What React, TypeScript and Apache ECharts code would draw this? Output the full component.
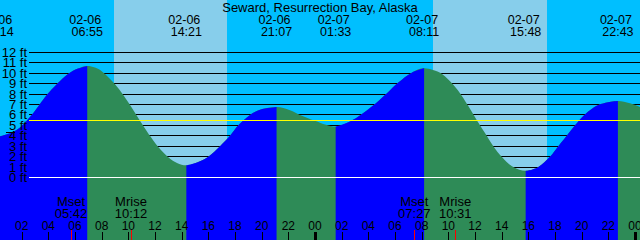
import React, { useEffect, useRef } from 'react';
import * as echarts from 'echarts';

const TITLE = 'Seward, Resurrection Bay, Alaska';

// Tide curve: hours since 02-06 00:00, height in feet
const curveHours = [
  0.375, 1.125, 1.875, 2.753, 3.323, 3.878, 4.628, 5.498, 6.225, 6.917,
  7.5, 8.003, 9.0, 9.623, 10.2, 10.673, 11.175, 11.678, 12.248, 12.998, 13.65, 14.35,
  15.15, 15.998, 16.875, 17.625, 18.248, 19.125, 19.875, 21.117,
  22.125, 22.875, 24.0, 24.825, 25.55,
  26.498, 27.248, 28.5, 29.498, 30.248, 31.253, 32.183,
  32.85, 33.503, 34.373, 35.003, 35.498, 35.925, 36.375, 36.878, 37.373, 38.003, 38.873, 39.8,
  40.275, 40.748, 41.625, 42.248, 42.878, 43.5, 44.123, 44.625, 45.248, 45.975, 46.717,
  47.625, 48.375,
];
const curveFeet = [
  3.96, 4.25, 4.8, 6.0, 6.95, 7.9, 8.95, 9.95, 10.45, 10.7,
  10.55, 10.2, 8.95, 7.9, 6.8, 5.85, 4.85, 3.9, 2.92, 1.95, 1.4, 1.17,
  1.45, 2.0, 3.0, 4.0, 5.0, 6.0, 6.5, 6.75,
  6.45, 6.0, 5.44, 5.05, 4.88,
  5.3, 5.85, 7.05, 8.2, 9.1, 10.05, 10.47,
  10.3, 9.95, 8.9, 7.85, 6.85, 5.95, 5.0, 4.0, 3.0, 2.0, 1.0, 0.65,
  0.75, 1.0, 2.0, 3.0, 4.0, 5.0, 5.9, 6.45, 6.95, 7.22, 7.33,
  7.12, 6.76,
];

// High / low tide events
const extremeHours = [0.233, 6.917, 14.35, 21.117, 25.55, 32.183, 39.8, 46.717];
const extremeDates = ['02-06', '02-06', '02-06', '02-06', '02-07', '02-07', '02-07', '02-07'];
const extremeTimes = ['00:14', '06:55', '14:21', '21:07', '01:33', '08:11', '15:48', '22:43'];

// Daylight
const dayStarts = [8.93, 32.83];
const dayEnds = [17.38, 41.4];

// Height levels
const levelFeet = [0, 1, 2, 3, 4, 5, 6, 7, 8, 9, 10, 11, 12];
const levelLabels = levelFeet.map((f) => `${f} ft`);
const refLineFeet = [5.45, 0];
const markerFeet = [4.3];

// Hours axis
const hourTicks = [2, 4, 6, 8, 10, 12, 14, 16, 18, 20, 22, 24, 26, 28, 30, 32, 34, 36, 38, 40, 42, 44, 46, 48];
const hourLabels = ['02', '04', '06', '08', '10', '12', '14', '16', '18', '20', '22', '00', '02', '04', '06', '08', '10', '12', '14', '16', '18', '20', '22', '00'];

// Moon
const moonHours = [5.7, 10.2, 31.45, 34.517];
const moonNames = ['Mset', 'Mrise', 'Mset', 'Mrise'];
const moonTimes = ['05:42', '10:12', '07:27', '10:31'];

const X_MIN = 0.375;
const X_MAX = 48.375;
const Y_MIN = -5.99;
const Y_MAX = 17.02;

const FONT = '"Liberation Sans", Arial, sans-serif';
const NIGHT = '#00BFFF';
const DAY = '#87CEEB';
const RISE = '#0000FF';
const FALL = '#2E8B57';

function buildOption() {
  const allPts = curveHours.map((h, i) => [h, curveFeet[i]]);
  const first = curveHours[0];
  const last = curveHours[curveHours.length - 1];
  const bounds = [first, ...extremeHours.filter((h) => h > first && h < last), last];
  const risingSegs: number[][][] = [];
  for (let i = 0; i < bounds.length - 1; i++) {
    const pts = allPts.filter((p) => p[0] >= bounds[i] - 1e-6 && p[0] <= bounds[i + 1] + 1e-6);
    if (pts.length > 1 && pts[pts.length - 1][1] > pts[0][1]) risingSegs.push(pts);
  }

  const crisp = (v: number) => Math.floor(v) + 0.5;

  const series: any[] = [];

  // daylight bands
  series.push({
    type: 'custom',
    z: 1,
    silent: true,
    data: dayStarts.map((s, i) => [s, dayEnds[i]]),
    renderItem: (params: any, api: any) => {
      const x0 = Math.round(api.coord([api.value(0), 0])[0]);
      const x1 = Math.round(api.coord([api.value(1), 0])[0]);
      return { type: 'rect', shape: { x: x0, y: 0, width: x1 - x0, height: 240 }, style: { fill: DAY } };
    },
  });

  // black level lines
  series.push({
    type: 'custom',
    z: 2,
    silent: true,
    data: levelFeet.filter((f) => f > 0).map((f) => [X_MIN, f]),
    renderItem: (params: any, api: any) => {
      const y = crisp(api.coord([X_MIN, api.value(1)])[1]);
      return { type: 'line', shape: { x1: 29, y1: y, x2: 640, y2: y }, style: { stroke: '#000', lineWidth: 1 } };
    },
  });

  // falling (full curve underlay)
  series.push({
    type: 'line',
    z: 3,
    silent: true,
    data: allPts,
    smooth: 0.35,
    symbol: 'none',
    lineStyle: { width: 0 },
    areaStyle: { color: FALL, opacity: 1, origin: 'start' },
    color: FALL,
  });

  // rising segments
  risingSegs.forEach((pts) => {
    series.push({
      type: 'line',
      z: 4,
      silent: true,
      data: pts,
      smooth: 0.35,
      symbol: 'none',
      lineStyle: { width: 0 },
      areaStyle: { color: RISE, opacity: 1, origin: 'start' },
      color: RISE,
    });
  });

  // yellow and white reference lines + left marker
  series.push({
    type: 'custom',
    z: 5,
    silent: true,
    data: refLineFeet.map((f) => [X_MIN, f]),
    renderItem: (params: any, api: any) => {
      const y = crisp(api.coord([X_MIN, api.value(1)])[1]);
      const color = params.dataIndex === 0 ? '#FFFF00' : '#FFFFFF';
      return { type: 'line', shape: { x1: 29, y1: y, x2: 640, y2: y }, style: { stroke: color, lineWidth: 1 } };
    },
  });
  series.push({
    type: 'custom',
    z: 6,
    silent: true,
    data: markerFeet.map((f) => [X_MIN, f]),
    renderItem: (params: any, api: any) => {
      const y = crisp(api.coord([X_MIN, api.value(1)])[1]);
      return { type: 'line', shape: { x1: 6, y1: y, x2: 15, y2: y }, style: { stroke: '#000', lineWidth: 1 } };
    },
  });

  // level labels
  series.push({
    type: 'custom',
    z: 7,
    silent: true,
    data: levelFeet.map((f) => [X_MIN, f]),
    renderItem: (params: any, api: any) => {
      const y = api.coord([X_MIN, api.value(1)])[1];
      return {
        type: 'text',
        x: 27,
        y,
        style: { text: levelLabels[params.dataIndex], font: `13px ${FONT}`, fill: '#000', align: 'right', verticalAlign: 'middle' },
      };
    },
  });

  // tide event labels
  series.push({
    type: 'custom',
    z: 7,
    silent: true,
    data: extremeHours.map((h) => [h, 0]),
    renderItem: (params: any, api: any) => {
      const x = api.coord([api.value(0), 0])[0];
      return {
        type: 'group',
        children: [
          { type: 'text', x: x - 2, y: 20, style: { text: extremeDates[params.dataIndex], font: `12.5px ${FONT}`, fill: '#000', align: 'center', verticalAlign: 'middle' } },
          { type: 'text', x: x, y: 32, style: { text: extremeTimes[params.dataIndex], font: `12.5px ${FONT}`, fill: '#000', align: 'center', verticalAlign: 'middle' } },
        ],
      };
    },
  });

  // hour ticks and labels
  series.push({
    type: 'custom',
    z: 7,
    silent: true,
    data: hourTicks.map((h) => [h, 0]),
    renderItem: (params: any, api: any) => {
      const h = api.value(0);
      const x = api.coord([h, 0])[0];
      const midnight = h % 24 === 0;
      const xc = Math.round(x) + 0.5;
      return {
        type: 'group',
        children: [
          { type: 'line', shape: { x1: xc, y1: 232, x2: xc, y2: 240 }, style: { stroke: '#000', lineWidth: midnight ? 3 : 1 } },
          { type: 'text', x: x, y: 226, style: { text: hourLabels[params.dataIndex], font: `12px ${FONT}`, fill: '#000', align: 'center', verticalAlign: 'middle' } },
        ],
      };
    },
  });

  // moon events
  series.push({
    type: 'custom',
    z: 8,
    silent: true,
    data: moonHours.map((h) => [h, 0]),
    renderItem: (params: any, api: any) => {
      const x = api.coord([api.value(0), 0])[0];
      const xc = Math.round(x) + 0.5;
      return {
        type: 'group',
        children: [
          { type: 'line', shape: { x1: xc, y1: 230, x2: xc, y2: 240 }, style: { stroke: '#FF0000', lineWidth: 1 } },
          { type: 'text', x: x, y: 201.5, style: { text: moonNames[params.dataIndex], font: `13px ${FONT}`, fill: '#000', align: 'center', verticalAlign: 'middle' } },
          { type: 'text', x: x, y: 213.5, style: { text: moonTimes[params.dataIndex], font: `13px ${FONT}`, fill: '#000', align: 'center', verticalAlign: 'middle' } },
        ],
      };
    },
  });

  return {
    animation: false,
    backgroundColor: NIGHT,
    grid: { left: 0, right: 0, top: 0, bottom: 0, containLabel: false },
    xAxis: { type: 'value', min: X_MIN, max: X_MAX, show: false },
    yAxis: { type: 'value', min: Y_MIN, max: Y_MAX, show: false },
    graphic: [
      {
        type: 'text',
        x: 320,
        y: 7,
        z: 100,
        style: { text: TITLE, font: `13px ${FONT}`, fill: '#000', align: 'center', verticalAlign: 'middle' },
      },
    ],
    series,
  };
}

export default function App() {
  const ref = useRef<HTMLDivElement>(null);
  useEffect(() => {
    if (!ref.current) return;
    const chart = echarts.init(ref.current, null, { renderer: 'svg' });
    chart.setOption(buildOption() as any);
    return () => chart.dispose();
  }, []);
  return <div ref={ref} style={{ position: 'fixed', left: 0, top: 0, width: 640, height: 240 }} />;
}
